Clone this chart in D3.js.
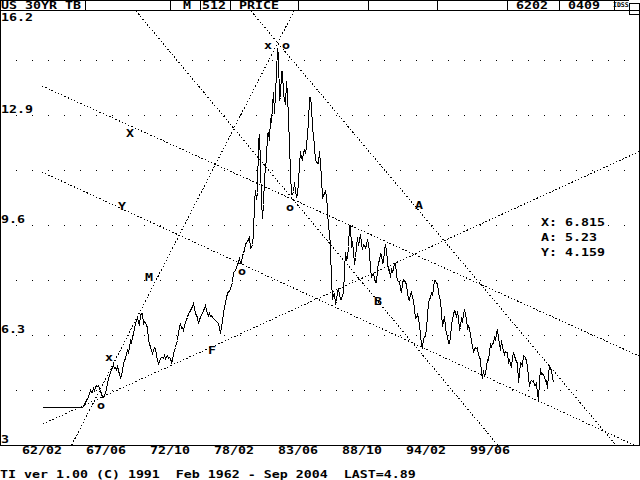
<!DOCTYPE html>
<html><head><meta charset="utf-8">
<script src="https://cdn.jsdelivr.net/npm/d3@7/dist/d3.min.js"></script>
<style>
html,body{margin:0;padding:0;background:#fff;}
svg{display:block;}
text{font-family:"DejaVu Sans Mono",monospace;font-weight:bold;fill:#000;white-space:pre;}
</style></head><body>
<svg id="c" width="640" height="480"></svg>
<script>
// ---- data: monthly US 30yr TB yield, Feb 1962 .. Sep 2004 (512 months) ----
const y1962 = [4.15,4.15,4.15,4.15,4.15,4.15,4.15,4.15,4.15,4.15,4.15];
const y1963 = [4.15,4.15,4.15,4.15,4.15,4.15,4.15,4.15,4.15,4.15,4.15,4.15];
const y1964 = [4.15,4.15,4.15,4.15,4.15,4.15,4.15,4.15,4.15,4.15,4.15,4.15];
const y1965 = [4.15,4.15,4.15,4.15,4.15,4.15,4.18,4.22,4.28,4.35,4.40,4.45];
const y1966 = [4.55,4.65,4.60,4.58,4.70,4.65,4.75,4.80,4.78,4.80,4.70,4.62];
const y1967 = [4.55,4.43,4.45,4.50,4.60,4.68,4.85,5.00,5.10,5.20,5.28,5.35];
const y1968 = [5.40,5.30,5.35,5.28,5.38,5.25,5.12,5.05,5.10,5.25,5.46,5.55];
const y1969 = [5.60,5.75,5.85,5.80,5.95,6.15,6.10,6.25,6.35,6.50,6.66,6.75];
const y1970 = [6.85,6.70,6.62,6.90,6.95,6.96,6.65,6.72,6.68,6.60,6.55,6.15];
const y1971 = [6.05,5.95,5.85,5.75,5.85,5.95,5.90,5.70,5.55,5.45,5.52,5.60];
const y1972 = [5.65,5.65,5.62,5.70,5.62,5.68,5.70,5.60,5.65,5.62,5.50,5.55];
const y1973 = [5.75,5.85,5.95,6.05,6.15,6.40,6.55,6.65,6.50,6.55,6.45,6.60];
const y1974 = [6.70,6.78,6.85,6.95,6.98,7.05,7.10,7.18,7.25,7.10,6.95,6.90];
const y1975 = [6.85,6.65,6.78,6.85,6.92,6.95,7.05,7.12,7.20,7.05,6.95,6.90];
const y1976 = [6.95,6.88,6.90,6.85,6.80,6.78,6.75,6.72,6.70,6.65,6.50,6.35];
const y1977 = [6.55,6.75,6.95,7.15,7.30,7.45,7.55,7.62,7.62,7.72,7.80,7.90];
const y1978 = [8.18,8.22,8.25,8.34,8.43,8.50,8.65,8.47,8.47,8.69,8.75,8.88];
const y1979 = [9.03,9.08,9.12,9.18,9.25,8.91,8.95,9.03,9.33,10.30,10.65,10.39];
const y1980 = [10.60,12.13,12.34,11.40,10.36,9.81,10.24,11.00,11.34,11.59,12.37,12.40];
const y1981 = [12.14,12.80,12.69,13.20,13.60,12.96,13.59,14.17,14.90,14.70,13.35,13.45];
const y1982 = [14.22,14.22,13.53,13.37,13.24,13.92,13.55,12.77,12.07,11.17,10.54,10.54];
const y1983 = [10.63,10.88,10.63,10.48,10.53,10.93,11.40,11.82,11.63,11.58,11.75,11.88];
const y1984 = [11.75,11.95,12.38,12.65,13.43,13.44,13.21,12.54,12.29,11.98,11.56,11.52];
const y1985 = [11.45,11.47,11.81,11.47,11.05,10.45,10.50,10.56,10.61,10.50,10.06,9.54];
const y1986 = [9.40,8.93,7.96,7.39,7.52,7.57,7.27,7.33,7.62,7.70,7.52,7.37];
const y1987 = [7.39,7.54,7.55,8.25,8.78,8.57,8.64,8.97,9.59,9.61,8.95,9.12];
const y1988 = [8.83,8.43,8.63,8.95,9.23,9.00,9.14,9.32,9.06,8.89,9.02,9.01];
const y1989 = [8.93,9.01,9.17,9.03,8.83,8.27,8.08,8.12,8.15,8.00,7.90,7.90];
const y1990 = [8.26,8.50,8.56,8.76,8.73,8.46,8.50,8.86,9.03,8.86,8.54,8.24];
const y1991 = [8.27,8.03,8.29,8.21,8.27,8.47,8.45,8.14,7.95,7.93,7.92,7.70];
const y1992 = [7.58,7.85,7.97,7.96,7.89,7.84,7.60,7.39,7.34,7.53,7.61,7.44];
const y1993 = [7.34,7.09,6.82,6.85,6.92,6.81,6.63,6.32,6.00,5.94,6.21,6.25];
const y1994 = [6.29,6.49,6.91,7.27,7.41,7.40,7.58,7.49,7.71,7.94,7.95,7.87];
const y1995 = [7.85,7.61,7.45,7.36,6.95,6.57,6.72,6.86,6.55,6.37,6.26,6.06];
const y1996 = [6.05,6.24,6.60,6.79,6.93,7.06,7.03,6.84,7.03,6.81,6.48,6.55];
const y1997 = [6.83,6.69,6.93,7.09,6.94,6.77,6.51,6.58,6.50,6.33,6.11,5.99];
const y1998 = [5.81,5.89,5.95,5.92,5.93,5.70,5.68,5.54,5.20,5.01,5.25,5.06];
const y1999 = [5.16,5.37,5.58,5.55,5.81,6.04,5.98,6.07,6.07,6.26,6.15,6.35];
const y2000 = [6.49,6.23,6.05,5.85,6.15,5.93,5.85,5.72,5.83,5.80,5.78,5.49];
const y2001 = [5.54,5.45,5.34,5.65,5.78,5.67,5.61,5.48,5.48,4.90,5.12,5.48];
const y2002 = [5.45,5.40,5.71,5.67,5.64,5.52,5.38,5.08,4.76,4.93,4.96,4.92];
const y2003 = [4.94,4.81,4.80,4.90,4.53,4.37,4.93,5.30,5.14,5.16,5.11,5.08];
const y2004 = [4.93,4.94,4.72,5.16,5.38,5.33,5.22,5.06,4.89];

const series = [].concat(y1962,y1963,y1964,y1965,y1966,y1967,y1968,y1969,y1970,y1971,
  y1972,y1973,y1974,y1975,y1976,y1977,y1978,y1979,y1980,y1981,y1982,y1983,y1984,
  y1985,y1986,y1987,y1988,y1989,y1990,y1991,y1992,y1993,y1994,y1995,y1996,y1997,
  y1998,y1999,y2000,y2001,y2002,y2003,y2004);

// x ticks: month index from Feb 1962
const xTickIndex  = [0, 64, 128, 192, 256, 320, 384, 448];
const xTickLabels = ["62/02","67/06","72/10","78/02","83/06","88/10","94/02","99/06"];
const yTickValues = [3, 6.3, 9.6, 12.9, 16.2];
const yTickLabels = ["3","6.3","9.6","12.9","16.2"];
const yGridValues = [4.65, 6.3, 7.95, 9.6, 11.25, 12.9, 14.55];

// trend lines: [monthIndex, value] end points
const trendLines = [
  [[94, 16.02], [455.7, 3.0]],
  [[0, 13.77], [597, 5.67]],
  [[1, 3.63], [597, 11.80]],
  [[0, 11.19], [592, 3.0]],
  [[209, 16.02], [573.8, 3.0]],
  [[29.7, 3.0], [252, 16.02]]
];
// chart annotation letters: [text, monthIndex, value]
const markText  = ["x","o","X","Y","M","o","F","x","o","o","A","B"];
const markIndex = [226, 244, 88, 80, 107, 200, 170, 67, 59, 248, 377, 336];
const markValue = [14.95,14.95,12.36,10.17,8.04,8.19,5.85,5.61,4.155,10.11,10.2,7.32];

const headerTexts = ["US 30YR TB","M","512","PRICE","6202","0409"];
const statsText = ["X: 6.815","A: 5.23","Y: 4.159"];
const footer = "TI ver 1.00 (C) 1991  Feb 1962 - Sep 2004  LAST=4.89";

// ---- drawing ----
const svg = d3.select("#c");
svg.append("rect").attr("width",640).attr("height",480).attr("fill","#fff");

const x = d3.scaleLinear().domain([0, 511]).range([42, 553]);
const y = d3.scaleLinear().domain([3, 16.2]).range([445, 5]);

function txt(parent, s, px, py, size, anchor, weight){
  return parent.append("text")
    .attr("transform", `translate(${px},${py}) scale(1,0.75)`)
    .attr("font-size", size || 13.29)
    .attr("text-anchor", anchor || "start")
    .attr("font-weight", weight || "bold")
    .attr("xml:space", "preserve")
    .text(s);
}

svg.append("clipPath").attr("id","pc").append("rect")
  .attr("x",1).attr("y",11).attr("width",638).attr("height",434);

// grid dots
const gDots = svg.append("g").attr("fill","#000");
yGridValues.forEach(v=>{
  d3.range(16, 639, 16).forEach(px=>{
    gDots.append("rect").attr("x",px).attr("y",Math.round(y(v))).attr("width",1).attr("height",1);
  });
});

// trend lines
const gLines = svg.append("g").attr("clip-path","url(#pc)");
trendLines.forEach(l=>{
  gLines.append("line")
    .attr("x1", x(l[0][0])).attr("y1", y(l[0][1]))
    .attr("x2", x(l[1][0])).attr("y2", y(l[1][1]))
    .attr("stroke","#000").attr("stroke-width",1)
    .attr("stroke-dasharray","1.5,2")
    .attr("shape-rendering","crispEdges");
});

// price line
const line = d3.line().x((d,i)=>x(i)+0.5).y(d=>Math.round(y(d))+0.5);
svg.append("path").datum(series).attr("d", line)
  .attr("fill","none").attr("stroke","#000").attr("stroke-width",1)
  .attr("shape-rendering","crispEdges");

// annotation letters
markText.forEach((t,k)=>{
  const lower = (t === "x" || t === "o");
  txt(svg, t, x(markIndex[k]), y(markValue[k]) + (lower ? 2.8 : 3.6), 13.29, "middle");
});

// stats block
svg.append("rect").attr("x",541).attr("y",216).attr("width",66).attr("height",11).attr("fill","#fff");
statsText.forEach((s,k)=>{ txt(svg, s, 541, 226 + k*15); });

// y labels
yTickValues.forEach((v,k)=>{
  const py = Math.min(Math.max(y(v) - 2, 20.8), 443);
  txt(svg, yTickLabels[k], 1, py);
});
// x labels
xTickIndex.forEach((i,k)=>{ txt(svg, xTickLabels[k], x(i), 454, 13.29, "middle"); });

// frame
const fr = svg.append("g").attr("stroke","#000").attr("stroke-width",1).attr("shape-rendering","crispEdges");
fr.append("line").attr("x1",0).attr("x2",640).attr("y1",445.5).attr("y2",445.5);
fr.append("line").attr("x1",0.5).attr("x2",0.5).attr("y1",0).attr("y2",446);
fr.append("line").attr("x1",639.5).attr("x2",639.5).attr("y1",3).attr("y2",446);
fr.append("line").attr("x1",0).attr("x2",629).attr("y1",0.5).attr("y2",0.5);
fr.append("line").attr("x1",0).attr("x2",640).attr("y1",10.5).attr("y2",10.5);
[85,170,200,230,298,368,437,507,559,614].forEach(px=>{
  fr.append("line").attr("x1",px+0.5).attr("x2",px+0.5).attr("y1",0).attr("y2",11);
});
fr.append("line").attr("x1",629.5).attr("x2",629.5).attr("y1",3).attr("y2",14);
fr.append("line").attr("x1",629).attr("x2",640).attr("y1",3.5).attr("y2",3.5);
fr.append("line").attr("x1",629).attr("x2",640).attr("y1",14.5).attr("y2",14.5);

// header texts
const hx = [1, 183, 202, 239, 516, 568];
headerTexts.forEach((s,k)=>{ txt(svg, s, hx[k], 9.2); });
svg.append("text").attr("x",613).attr("y",7).attr("font-size",6.5).attr("font-weight","normal").text("IDSS");

// footer
txt(svg, footer, 0, 478);
</script>
</body></html>
